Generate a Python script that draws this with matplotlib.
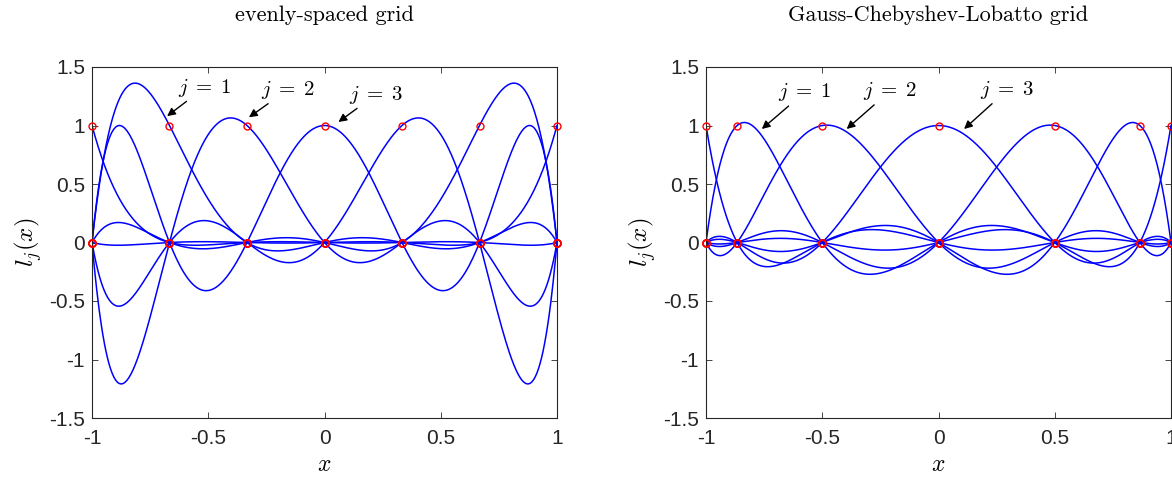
import numpy as np
import matplotlib
matplotlib.use("Agg")
from matplotlib import pyplot as plt

# interpolation nodes for the two grids (7 points each)
nodes_even = [-1.0, -0.6667, -0.3333, 0.0, 0.3333, 0.6667, 1.0]
nodes_gcl = [-1.0, -0.8660, -0.5, 0.0, 0.5, 0.8660, 1.0]

titles = ["evenly-spaced grid", "Gauss-Chebyshev-Lobatto grid"]
xticks = [-1, -0.5, 0, 0.5, 1]
yticks = [-1.5, -1, -0.5, 0, 0.5, 1, 1.5]
tick_labels_x = ["-1", "-0.5", "0", "0.5", "1"]
tick_labels_y = ["-1.5", "-1", "-0.5", "0", "0.5", "1", "1.5"]

# annotation: (label, arrow tip, text position) per panel
notes_even = [
    ("$j\\;=\\;1$", (-0.677, 1.08), (-0.63, 1.23)),
    ("$j\\;=\\;2$", (-0.325, 1.07), (-0.275, 1.21)),
    ("$j\\;=\\;3$", (0.06, 1.03), (0.105, 1.17)),
]
notes_gcl = [
    ("$j\\;=\\;1$", (-0.76, 0.97), (-0.69, 1.19)),
    ("$j\\;=\\;2$", (-0.395, 0.97), (-0.325, 1.20)),
    ("$j\\;=\\;3$", (0.11, 0.97), (0.18, 1.21)),
]

plt.rcParams["mathtext.fontset"] = "cm"
plt.rcParams["axes.unicode_minus"] = False
plt.rcParams["font.family"] = ["Liberation Sans", "DejaVu Sans"]


def lagrange(nodes, j, x):
    out = np.ones_like(x)
    for k, xk in enumerate(nodes):
        if k != j:
            out *= (x - xk) / (nodes[j] - xk)
    return out


fig = plt.figure(figsize=(11.72, 4.8), dpi=100)
positions = [
    [92 / 1172, 62 / 480, 465 / 1172, 351 / 480],
    [706 / 1172, 62 / 480, 465 / 1172, 351 / 480],
]

xx = np.linspace(-1, 1, 600)
for pos, nodes, title, notes in zip(positions, [nodes_even, nodes_gcl], titles,
                                    [notes_even, notes_gcl]):
    ax = fig.add_axes(pos)
    nodes = np.array(nodes)
    for j in range(len(nodes)):
        ax.plot(xx, lagrange(nodes, j, xx), color="#0000ff", lw=1.1, zorder=2)
        ax.plot(nodes, lagrange(nodes, j, nodes), "o", mfc="none", mec="red",
                ms=5, mew=1.0, zorder=3, clip_on=False)
    for label, tip, txt in notes:
        ax.annotate(label, xy=tip, xytext=txt, fontsize=15,
                    ha="left", va="bottom",
                    arrowprops=dict(arrowstyle="-|>", color="black", lw=1.0,
                                    mutation_scale=12, shrinkA=0, shrinkB=0))
    ax.set_xlim(-1, 1)
    ax.set_ylim(-1.5, 1.5)
    ax.set_xticks(xticks)
    ax.set_xticklabels(tick_labels_x)
    ax.set_yticks(yticks)
    ax.set_yticklabels(tick_labels_y)
    ax.tick_params(direction="in", top=True, right=True, labelsize=15,
                   length=4, width=0.6, colors="#262626")
    ax.tick_params(axis="x", pad=8)
    ax.tick_params(axis="y", pad=5)
    for sp in ax.spines.values():
        sp.set_linewidth(0.8)
        sp.set_color("#262626")
    ax.set_xlabel("$x$", fontsize=17, labelpad=4)
    ax.set_ylabel("$l_j(x)$", fontsize=18, labelpad=4)
    ax.set_title(title, fontsize=16, family="cmr10", pad=33)

fig.savefig("out.png", dpi=100)
